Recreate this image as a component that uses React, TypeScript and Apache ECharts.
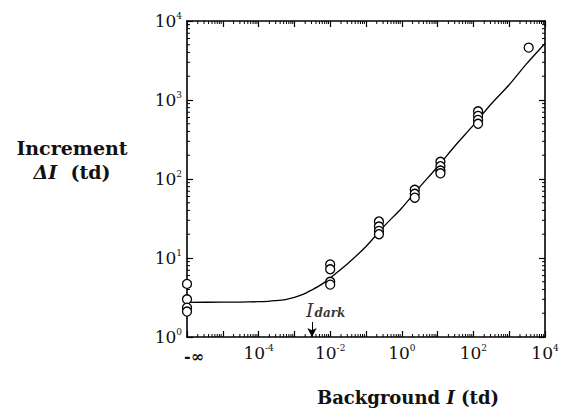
import React, { useEffect, useRef } from 'react';
import * as echarts from 'echarts';

// ---- axis definitions (exponents of 10) ----
const X_EXP_MIN = -6; // left edge, labelled "-∞" (I = 0 plotted here)
const X_EXP_MAX = 4;
const Y_EXP_MIN = 0;
const Y_EXP_MAX = 4;
const X_LABEL_EXPS = [-4, -2, 0, 2, 4];
const MINOR_MULTIPLIERS = [2, 3, 4, 5, 6, 7, 8, 9];

// ---- measured thresholds ----
const BACKGROUND_TD = [0, 0.01, 0.23, 2.3, 12, 135, 3500];
const INCREMENT_TD = [
  [4.7, 3.0, 2.35, 2.1],
  [8.3, 7.2, 5.0, 4.6],
  [29, 25, 22, 20],
  [73, 65, 58],
  [165, 145, 128, 118],
  [720, 630, 560, 500],
  [4600],
];

// ---- fitted curve ----
const FIT_BACKGROUND_TD = [0, 1e-5, 3e-5, 1e-4, 1.8e-4, 3e-4, 5.6e-4, 1e-3, 1.8e-3, 3e-3, 5.6e-3, 1e-2, 3e-2, 0.1, 0.3, 1, 3, 10, 30, 100, 300, 1000, 3000, 10000];
const FIT_INCREMENT_TD = [2.75, 2.76, 2.77, 2.8, 2.83, 2.88, 2.98, 3.18, 3.48, 3.92, 4.6, 5.6, 8.4, 14, 24.5, 43, 77, 143, 260, 480, 870, 1560, 2850, 5200];

// ---- I_dark annotation ----
const I_DARK_TD = 0.0031;
const I_DARK_LABEL_INC = 2.2;
const I_DARK_ARROW_FROM_INC = 1.55;

const SERIF = '"DejaVu Serif", "Liberation Serif", serif';

const toX = (v: number) => (v <= 0 ? X_EXP_MIN : Math.log10(v));

const tickRich = {
  n: { fontFamily: SERIF, fontSize: 17, color: '#111', lineHeight: 20 },
  s: { fontFamily: SERIF, fontSize: 9, color: '#111', lineHeight: 11, verticalAlign: 'top' },
  m: { fontFamily: SERIF, fontSize: 16, color: '#111', fontWeight: 'bold', lineHeight: 20, padding: [6, 0, 0, 14] },
};

export default function App() {
  const ref = useRef<HTMLDivElement>(null);

  useEffect(() => {
    if (!ref.current) return;
    const chart = echarts.init(ref.current, undefined, { renderer: 'svg' });

    const scatterData: number[][] = [];
    BACKGROUND_TD.forEach((bg, i) => {
      INCREMENT_TD[i].forEach((inc) => scatterData.push([toX(bg), Math.log10(inc)]));
    });
    const fitData = FIT_BACKGROUND_TD.map((bg, i) => [toX(bg), Math.log10(FIT_INCREMENT_TD[i])]);

    const minorData: number[][] = [];
    for (let e = X_EXP_MIN; e < X_EXP_MAX; e++) {
      MINOR_MULTIPLIERS.forEach((m) => minorData.push([e + Math.log10(m), Y_EXP_MIN, 0]));
    }
    for (let e = Y_EXP_MIN; e < Y_EXP_MAX; e++) {
      MINOR_MULTIPLIERS.forEach((m) => minorData.push([X_EXP_MIN, e + Math.log10(m), 1]));
    }

    const axisLine = { show: true, onZero: false, lineStyle: { color: '#000', width: 1.6 } };
    const majorTick = { show: true, inside: true, length: 6, lineStyle: { color: '#000', width: 1.2 } };

    const xFormatter = (v: number) => {
      const e = Math.round(v);
      if (e === X_EXP_MIN) return '{m|-∞}';
      if (X_LABEL_EXPS.includes(e)) return `{n|10}{s|${e}}`;
      return '';
    };
    const yFormatter = (v: number) => `{n|10}{s|${Math.round(v)}}`;

    chart.setOption({
      animation: false,
      backgroundColor: '#fff',
      grid: { left: 187, top: 21, width: 358, height: 316 },
      xAxis: [
        {
          type: 'value', position: 'bottom', min: X_EXP_MIN, max: X_EXP_MAX, interval: 1,
          axisLine, axisTick: majorTick, splitLine: { show: false },
          axisLabel: { formatter: xFormatter, rich: tickRich, margin: 6, showMinLabel: true, showMaxLabel: true },
        },
        {
          type: 'value', position: 'top', min: X_EXP_MIN, max: X_EXP_MAX, interval: 1,
          axisLine, axisTick: majorTick, splitLine: { show: false }, axisLabel: { show: false },
        },
      ],
      yAxis: [
        {
          type: 'value', position: 'left', min: Y_EXP_MIN, max: Y_EXP_MAX, interval: 1,
          axisLine, axisTick: majorTick, splitLine: { show: false },
          axisLabel: { formatter: yFormatter, rich: tickRich, margin: 5 },
        },
        {
          type: 'value', position: 'right', min: Y_EXP_MIN, max: Y_EXP_MAX, interval: 1,
          axisLine, axisTick: majorTick, splitLine: { show: false }, axisLabel: { show: false },
        },
      ],
      series: [
        {
          type: 'custom',
          silent: true,
          clip: false,
          data: minorData,
          encode: { x: 0, y: 1 },
          renderItem: (_params: any, api: any) => {
            const kind = api.value(2);
            const st = { stroke: '#000', lineWidth: 1 };
            if (kind === 0) {
              const v = api.value(0);
              const b = api.coord([v, Y_EXP_MIN]);
              const t = api.coord([v, Y_EXP_MAX]);
              return {
                type: 'group',
                children: [
                  { type: 'line', shape: { x1: b[0], y1: b[1], x2: b[0], y2: b[1] - 3 }, style: st },
                  { type: 'line', shape: { x1: t[0], y1: t[1], x2: t[0], y2: t[1] + 3 }, style: st },
                ],
              };
            }
            const v = api.value(1);
            const l = api.coord([X_EXP_MIN, v]);
            const r = api.coord([X_EXP_MAX, v]);
            return {
              type: 'group',
              children: [
                { type: 'line', shape: { x1: l[0], y1: l[1], x2: l[0] + 3, y2: l[1] }, style: st },
                { type: 'line', shape: { x1: r[0], y1: r[1], x2: r[0] - 3, y2: r[1] }, style: st },
              ],
            };
          },
          z: 1,
        },
        {
          type: 'line',
          data: fitData,
          smooth: 0.25,
          showSymbol: false,
          lineStyle: { color: '#000', width: 1.3 },
          silent: true,
          z: 2,
        },
        {
          type: 'scatter',
          data: scatterData,
          symbol: 'circle',
          symbolSize: 9,
          clip: false,
          itemStyle: { color: '#fff', borderColor: '#000', borderWidth: 1.3, opacity: 1 },
          silent: true,
          z: 3,
        },
        {
          type: 'scatter',
          data: [[Math.log10(I_DARK_TD), Math.log10(I_DARK_LABEL_INC)]],
          symbolSize: 0,
          silent: true,
          clip: false,
          label: {
            show: true,
            position: [-6, 0],
            align: 'left',
            verticalAlign: 'middle',
            formatter: '{i|I}{d|dark}',
            rich: {
              i: { fontFamily: SERIF, fontStyle: 'italic', fontSize: 19, color: '#000', lineHeight: 19, verticalAlign: 'top' },
              d: { fontFamily: SERIF, fontStyle: 'italic', fontWeight: 'bold', fontSize: 12, color: '#000', lineHeight: 13, verticalAlign: 'bottom', padding: [12, 0, 0, 1] },
            },
          },
          markLine: {
            silent: true,
            symbol: ['none', 'arrow'],
            symbolSize: [7, 9],
            label: { show: false },
            lineStyle: { color: '#000', width: 1, type: 'solid' },
            data: [[
              { coord: [Math.log10(I_DARK_TD), Math.log10(I_DARK_ARROW_FROM_INC)] },
              { coord: [Math.log10(I_DARK_TD), Y_EXP_MIN] },
            ]],
          },
          z: 4,
        },
      ],
      graphic: [
        {
          type: 'text', x: 72, y: 148,
          style: { text: 'Increment', font: `bold 19px ${SERIF}`, fill: '#111', align: 'center', verticalAlign: 'middle' },
        },
        {
          type: 'text', x: 72, y: 172,
          style: {
            text: '{it|ΔI}{b|  (td)}', align: 'center', verticalAlign: 'middle',
            rich: {
              it: { fontFamily: SERIF, fontWeight: 'bold', fontStyle: 'italic', fontSize: 19, fill: '#111' },
              b: { fontFamily: SERIF, fontWeight: 'bold', fontSize: 19, fill: '#111' },
            },
          },
        },
        {
          type: 'text', x: 408, y: 397,
          style: {
            text: '{b|Background }{it|I}{b| (td)}', align: 'center', verticalAlign: 'middle',
            rich: {
              it: { fontFamily: SERIF, fontWeight: 'bold', fontStyle: 'italic', fontSize: 18, fill: '#111' },
              b: { fontFamily: SERIF, fontWeight: 'bold', fontSize: 18, fill: '#111' },
            },
          },
        },
      ],
    });

    return () => chart.dispose();
  }, []);

  return <div ref={ref} style={{ position: 'fixed', left: 0, top: 0, width: 569, height: 418 }} />;
}
